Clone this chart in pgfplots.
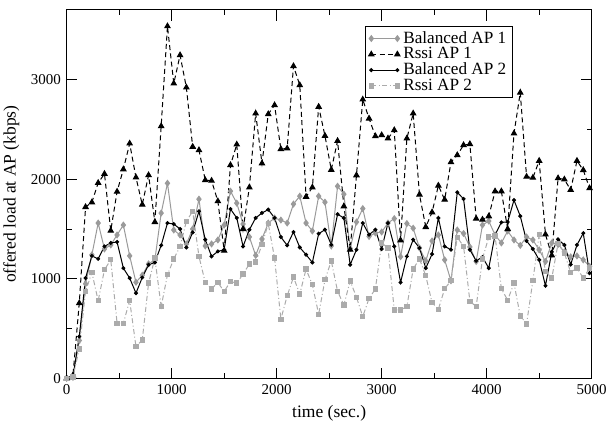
\documentclass[border=0pt]{standalone}
\usepackage{fontspec}
\setmainfont{Liberation Serif}
\usepackage{pgfplots}
\usepackage{pgfplotstable}
\pgfplotsset{compat=1.18}
\definecolor{gB}{HTML}{9A9A9A}
\definecolor{gR}{HTML}{ABABAB}

% t, Balanced AP 1, Rssi AP 1, Balanced AP 2, Rssi AP 2
\pgfplotstableread{
t b1 r1 b2 r2
0 0 0 0 0
60 10 30 20 15
120 380 755 420 295
180 950 1721 1007 872
240 1240 1768 1230 1064
300 1560 1963 1200 779
360 1300 2054 1325 1091
420 1340 1483 1360 1191
480 1440 1875 1370 554
540 1540 2100 1107 554
600 1230 2359 1007 782
660 965 2018 856 319
720 1035 1745 1013 386
780 1150 2041 1141 956
840 1190 1570 1164 1208
900 1660 2533 1336 721
960 1960 3537 1560 1040
1020 1490 2962 1550 1198
1080 1440 3246 1500 1325
1140 1350 2922 1315 1577
1200 1500 2326 1466 1678
1260 1800 2292 1678 1225
1320 1330 1991 1393 963
1380 1350 1985 1225 899
1440 1390 1779 1275 963
1500 1540 1282 1292 872
1560 1880 2142 1701 973
1620 1760 2349 1611 956
1680 1550 1500 1325 1047
1740 1420 1918 1493 1148
1800 1235 2661 1611 1168
1860 1400 2159 1661 1342
1920 1560 2654 1695 1554
1980 1610 2744 1611 1208
2040 1590 2303 1419 594
2100 1560 2309 1336 829
2160 1750 3136 1470 1017
2220 1830 2945 1315 846
2280 1560 1824 1242 1097
2340 1480 1918 1164 940
2400 1830 2728 1453 644
2460 1770 2436 1493 990
2520 1330 2095 1342 1180
2580 1930 2385 1648 875
2640 1850 1728 1611 737
2700 1305 1292 1141 978
2760 1570 2040 1292 815
2820 1705 2801 1560 620
2880 1425 2610 1443 804
2940 1460 2433 1493 896
3000 1470 2443 1299 1360
3060 1560 2410 1560 1310
3120 1605 2493 1325 687
3180 1222 1386 963 687
3240 1555 2410 1225 720
3300 1508 2661 1393 1098
3360 1310 1846 1309 1200
3420 1180 1520 1107 1030
3480 1380 1668 1248 760
3540 1440 1936 1611 694
3600 1190 1795 1325 900
3660 980 2171 1292 980
3720 1490 2242 1869 1416
3780 1455 2343 1802 1327
3840 1320 2353 1292 775
3900 1174 1604 1181 720
3960 1540 1594 1218 1200
4020 1580 1628 1107 1420
4080 1440 1879 1443 1430
4140 1360 1879 1567 900
4200 1480 1500 1570 785
4260 1390 2460 1790 956
4320 1335 2870 1630 627
4380 1420 2025 1380 547
4440 1390 2015 1300 980
4500 1290 2185 1190 1443
4560 1174 1445 930 1074
4620 1360 1235 1270 1007
4680 1345 2010 1396 1355
4740 1270 1998 1340 1260
4800 1220 1893 1143 1064
4860 1230 2185 1340 1107
4920 1190 2092 1458 1007
4980 1125 1910 1056 1107
}\loaddata

\begin{document}
\begin{tikzpicture}
\begin{axis}[
  scale only axis,
  width=315pt, height=221pt,
  xmin=0, xmax=5000, ymin=0, ymax=3700,
  xtick={0,1000,...,5000},
  ytick={0,1000,2000,3000},
  minor x tick num=1, minor y tick num=1,
  tick align=inside,
  major tick length=6.4pt, minor tick length=3pt,
  tick style={black, line width=0.6pt},
  axis line style={line width=0.6pt},
  ticklabel style={font=\fontsize{9}{10}\selectfont},
  /pgf/number format/assume math mode=true,
  /pgf/number format/set thousands separator={},
  xlabel={time (sec.)},
  ylabel={offered load at AP (kbps)},
  label style={font=\fontsize{10.5}{12}\selectfont},
  legend cell align=left,
  legend style={at={(0.851,0.957)}, anchor=north east, draw=black,
    line width=0.6pt, font=\fontsize{10.3}{11}\selectfont,
    inner xsep=2pt, inner ysep=1pt, row sep=-3pt},
  legend image code/.code={\draw[#1] plot coordinates {(0cm,0cm) (0.55cm,0cm)};},
]
\addplot[color=gB, line width=0.6pt, mark=diamond*, mark size=1.7pt,
  mark options={solid, fill=gB}] table[x=t, y=b1] {\loaddata};
\addlegendentry{Balanced AP 1}
\addplot[color=black, line width=0.6pt, dash pattern=on 3pt off 2pt,
  mark=triangle*, mark size=1.8pt, mark options={solid}] table[x=t, y=r1] {\loaddata};
\addlegendentry{Rssi AP 1}
\addplot[color=black, line width=0.6pt, mark=*, mark size=0.9pt,
  mark options={solid}] table[x=t, y=b2] {\loaddata};
\addlegendentry{Balanced AP 2}
\addplot[color=gR, line width=0.6pt, dash pattern=on 3pt off 1.5pt on 0.6pt off 1.5pt,
  mark=square*, mark size=1.3pt, mark options={solid, fill=gR}] table[x=t, y=r2] {\loaddata};
\addlegendentry{Rssi AP 2}
\end{axis}
\pgfresetboundingbox
\path[use as bounding box] ([xshift=-40pt,yshift=-29.2pt]current axis.south west)
  rectangle ([xshift=12.8pt,yshift=6pt]current axis.north east);
\end{tikzpicture}
\end{document}
